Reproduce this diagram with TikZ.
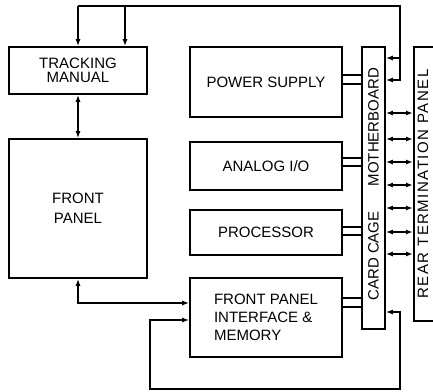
\documentclass[tikz,border=0pt]{standalone}
\usepackage{fontspec}
\setmainfont{Liberation Sans}
\usetikzlibrary{arrows.meta,positioning}

\begin{document}
\begin{tikzpicture}[x=1pt,y=-1pt,
    blk/.style={draw,line width=1.6pt,inner sep=0pt,font=\fontsize{15}{17}\selectfont,align=center},
    lbl/.style={inner sep=0pt,font=\fontsize{15}{17}\selectfont,rotate=90},
    arr/.style={line width=1.4pt,-{Latex[length=7pt,width=5pt]}},
    dbl/.style={line width=1.4pt,{Latex[length=7pt,width=5pt]}-{Latex[length=7pt,width=5pt]}},
    bus/.style={line width=1.4pt}]
  \useasboundingbox (0,0) rectangle (433,391);
  \clip (0,0) rectangle (433,391);
  % left column
  \node[blk,minimum width=138pt,minimum height=47pt] (tm) at (78,70.5) {TRACKING\\[-3pt]MANUAL};
  \node[blk,minimum width=138pt,minimum height=139pt] (fp) at (78,208.5) {FRONT\\[3pt]PANEL};
  % cards
  \node[blk,minimum width=152pt,minimum height=70pt] (ps) at (266,82) {POWER SUPPLY};
  \node[blk,minimum width=152pt,minimum height=48pt] (aio) at (266,166) {ANALOG I/O};
  \node[blk,minimum width=152pt,minimum height=45pt] (proc) at (266,232.5) {PROCESSOR};
  \node[blk,minimum width=152pt,minimum height=79pt,align=left] (fpi) at (266,317.5) {FRONT PANEL\\[1pt]INTERFACE \&\\[1pt]MEMORY};
  % card cage and rear panel
  \node[blk,minimum width=23pt,minimum height=282pt] (cc) at (373.5,188) {};
  \node[lbl] (mb) at (373.5,127) {MOTHERBOARD};
  \node[lbl] (cage) at (373.5,256) {CARD CAGE};
  \node[blk,minimum width=40pt,minimum height=274pt,anchor=north west] (rtp) at (413,46) {};
  \node[lbl] (rtptext) at (423,184) {\addfontfeatures{LetterSpace=10}REAR TERMINATION PANEL};
  % connectors
  \coordinate (topl) at (78,6);
  \coordinate (topm) at (125,6);
  \coordinate (topr) at (400,6);
  \coordinate (lpr) at (400,389);
  \coordinate (lpl) at (150,389);
  \draw[arr] (topl) -- (tm.north);
  \draw[arr] (topm) -- (tm.north -| topm);
  \draw[arr] (topl) -- (topr) |- (cc.east |- 0,80);
  \draw[arr] (topr |- 0,58) -- (cc.east |- 0,58);
  \draw[dbl] (tm) -- (fp);
  \draw[dbl] (fp.south) |- (fpi.west |- 0,303);
  \draw[dbl] (cc.east |- 0,312) -| (lpr) -- (lpl) |- (fpi.west |- 0,320);
  \foreach \b/\ya/\yb in {ps/75/84,aio/158/166,proc/227/235,fpi/298/307} {
    \draw[bus] (\b.east |- 0,\ya) -- (cc.west |- 0,\ya);
    \draw[bus] (\b.east |- 0,\yb) -- (cc.west |- 0,\yb);
  }
  \foreach \y in {113,139,162,185,208,232,254}
    \draw[dbl] (cc.east |- 0,\y) -- (rtp.west |- 0,\y);
\end{tikzpicture}
\end{document}
